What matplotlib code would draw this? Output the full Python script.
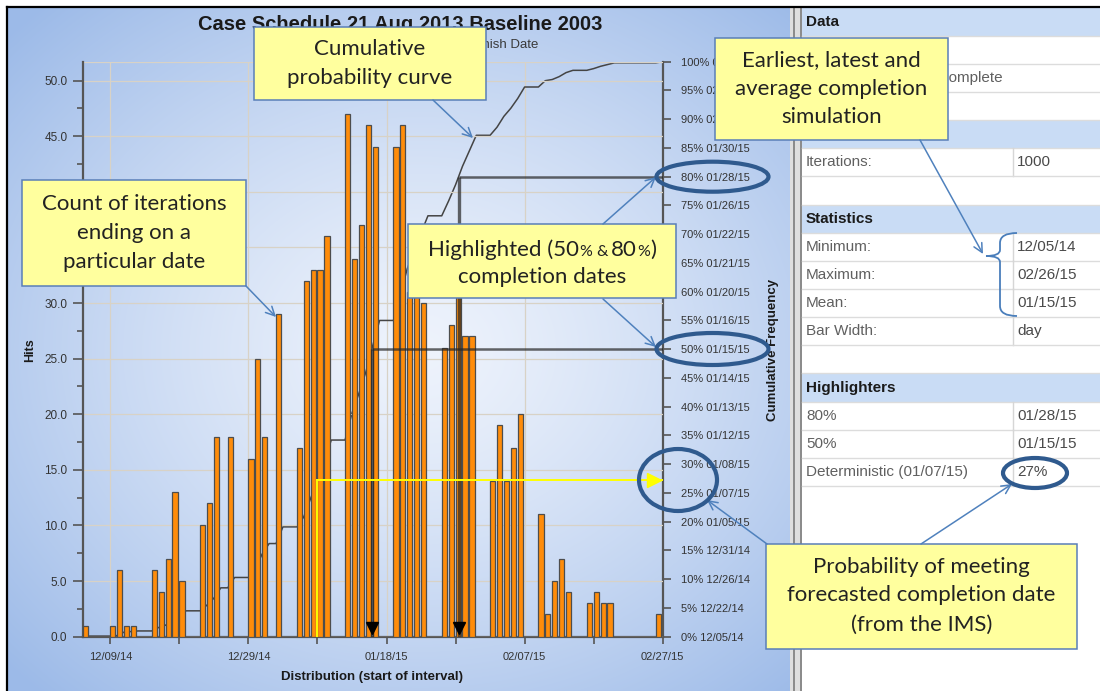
import numpy as np
import matplotlib
matplotlib.use('Agg')
import matplotlib.pyplot as plt
import matplotlib.dates as mdates
from matplotlib.ticker import FixedLocator, MultipleLocator
from matplotlib.patches import Rectangle, Ellipse, PathPatch
from matplotlib.path import Path
import datetime as dt

plt.rcParams['font.family'] = ['Liberation Sans', 'DejaVu Sans']

# ---------------- data ----------------
hit_dates = ['2014-12-05', '2014-12-09', '2014-12-10', '2014-12-11', '2014-12-12',
             '2014-12-15', '2014-12-16', '2014-12-17', '2014-12-18', '2014-12-19',
             '2014-12-22', '2014-12-23', '2014-12-24',
             '2014-12-26',
             '2014-12-29', '2014-12-30', '2014-12-31',
             '2015-01-02',
             '2015-01-05', '2015-01-06', '2015-01-07', '2015-01-08', '2015-01-09',
             '2015-01-12', '2015-01-13', '2015-01-14', '2015-01-15', '2015-01-16',
             '2015-01-19', '2015-01-20', '2015-01-21', '2015-01-22', '2015-01-23',
             '2015-01-26', '2015-01-27', '2015-01-28', '2015-01-29', '2015-01-30',
             '2015-02-02', '2015-02-03', '2015-02-04', '2015-02-05', '2015-02-06',
             '2015-02-09', '2015-02-10', '2015-02-11', '2015-02-12', '2015-02-13',
             '2015-02-16', '2015-02-17', '2015-02-18', '2015-02-19',
             '2015-02-26']
hits = [1, 1, 6, 1, 1,
        6, 4, 7, 13, 5,
        10, 12, 18,
        18,
        16, 25, 18,
        29,
        17, 32, 33, 33, 36,
        47, 34, 37, 46, 44,
        44, 46, 31, 31, 30,
        26, 28, 32, 27, 27,
        14, 19, 14, 17, 20,
        11, 2, 5, 7, 4,
        3, 4, 3, 3,
        2]

x_start, x_end = '2014-12-05', '2015-02-27'
x_tick_labels = ['12/09/14', '12/29/14', '01/18/15', '02/07/15', '02/27/15']
hits_ticks = [0, 5, 10, 15, 20, 25, 30, 35, 40, 45, 50]
pct_ticks = [0, 5, 10, 15, 20, 25, 30, 35, 40, 45, 50, 55, 60, 65, 70, 75, 80, 85, 90, 95, 100]
pct_dates = ['12/05/14', '12/22/14', '12/26/14', '12/31/14', '01/05/15', '01/07/15',
             '01/08/15', '01/12/15', '01/13/15', '01/14/15', '01/15/15', '01/16/15',
             '01/20/15', '01/21/15', '01/22/15', '01/26/15', '01/28/15', '01/30/15',
             '02/03/15', '02/06/15', '02/26/15']
highlight_pcts = [50, 80]
deterministic_date = '2015-01-07'
iterations = 1000

title = 'Case Schedule 21 Aug 2013 Baseline 2003'
subtitle = 'Project Complete : Finish Date'

table_rows = [
    ('h', 'Data', ''),
    ('e', '', ''),
    ('w', 'Project Complete', ''),
    ('e', '', ''),
    ('h', 'Simulation', ''),
    ('r', 'Iterations:', '1000'),
    ('e', '', ''),
    ('h', 'Statistics', ''),
    ('r', 'Minimum:', '12/05/14'),
    ('r', 'Maximum:', '02/26/15'),
    ('r', 'Mean:', '01/15/15'),
    ('r', 'Bar Width:', 'day'),
    ('e', '', ''),
    ('h', 'Highlighters', ''),
    ('r', '80%', '01/28/15'),
    ('r', '50%', '01/15/15'),
    ('r', 'Deterministic (01/07/15)', '27%'),
]

# ---------------- derived ----------------
def d2n(s):
    return mdates.date2num(dt.datetime.strptime(s, '%Y-%m-%d'))

hit_nums = np.array([d2n(s) for s in hit_dates])
x0n, x1n = d2n(x_start), d2n(x_end)
days = np.arange(x0n, x1n)
daily = np.zeros(len(days))
for n, h in zip(hit_nums, hits):
    daily[int(round(n - x0n))] += h
curve_x = np.concatenate([[x0n], days + 1])
curve_pct = np.concatenate([[0], np.cumsum(daily)]) / iterations * 100.0

major_x = [mdates.date2num(dt.datetime.strptime(s, '%m/%d/%y')) for s in x_tick_labels]
minor_x = list((np.array(major_x[:-1]) + np.array(major_x[1:])) / 2)

# ---------------- figure ----------------
W, H = 1100, 691
fig = plt.figure(figsize=(W / 100, H / 100), dpi=100)

bg = fig.add_axes([0, 0, 1, 1], zorder=0)
bg.set_xlim(0, W); bg.set_ylim(H, 0); bg.axis('off')

# gradient panel
px0, px1, py0, py1 = 7, 791, 7, 691
yy, xx = np.mgrid[py0:py1, px0:px1]
r = np.hypot((xx - 420) / 560.0, (yy - 350) / 470.0)
t = np.clip(r, 0, 1) ** 1.3
c0 = np.array([0xee, 0xf3, 0xfc]) / 255.0
c1 = np.array([0x9c, 0xba, 0xe8]) / 255.0
img = c0 + (c1 - c0) * t[..., None]
bg.imshow(img, extent=(px0, px1, py1, py0), aspect='auto', zorder=0, interpolation='bilinear')
bg.set_xlim(0, W); bg.set_ylim(H, 0)

# right panel (table)
bg.add_patch(Rectangle((802, 7), W - 802, H - 7, facecolor='white', edgecolor='none', zorder=1))
bg.add_patch(Rectangle((790, 7), 12, H - 7, facecolor='#dedede', edgecolor='none', zorder=1))
bg.plot([793.5, 793.5], [7, H], color='#8a8a8a', lw=1.4, zorder=2)
bg.plot([801, 801], [7, H], color='#8a8a8a', lw=1.4, zorder=2)
bg.plot([7, W], [7, 7], color='black', lw=1.6, zorder=3)
bg.plot([7, 7], [7, H], color='black', lw=1.6, zorder=3)

row_h = 28.15
ty0 = 7.5
col_x = 1012.7
for k, (kind, lab, val) in enumerate(table_rows):
    ya = ty0 + k * row_h
    yc = ya + row_h / 2
    if kind == 'h':
        bg.add_patch(Rectangle((802, ya), W - 802, row_h, facecolor='#c9dcf5', edgecolor='none', zorder=1.5))
        bg.text(806, yc, lab, fontsize=11, fontweight='bold', color='#1a1a1a', va='center', ha='left', zorder=4)
    elif kind == 'r':
        bg.plot([col_x, col_x], [ya, ya + row_h], color='#d6d6d6', lw=1, zorder=2)
        bg.text(806, yc, lab, fontsize=11, color='#606060', va='center', ha='left', zorder=4)
        bg.text(1017, yc, val, fontsize=11, color='#4a4a4a', va='center', ha='left', zorder=4)
    elif kind == 'w':
        bg.text(1003, yc, lab, fontsize=11, color='#606060', va='center', ha='right', zorder=4)
    bg.plot([802, W], [ya + row_h, ya + row_h], color='#dcdcdc', lw=1, zorder=2)

# ---------------- main chart ----------------
ax = fig.add_axes([82.7 / W, 1 - 636.7 / H, 580 / W, 575 / H])
ax.set_zorder(1)
ax.patch.set_visible(False)
ax2 = ax.twinx()
ax2.set_zorder(2)
ax2.patch.set_visible(False)

grid_c = '#d8d2c6'
axis_c = '#555555'

# cumulative curve (under the bars)
ax.plot(curve_x, curve_pct, color='#444444', lw=1.1, zorder=3)

# bars
ax2.bar(hit_nums, hits, width=0.75, align='edge', color='#ff8c0a',
        edgecolor='#4d4d4d', linewidth=0.9, zorder=3)

# highlighted percentiles
for lvl in highlight_pcts:
    xc = np.interp(lvl, curve_pct, curve_x)
    ax2.plot([xc, xc], [0, lvl], color='#262626', lw=2.4, alpha=0.7,
             transform=ax.transData, zorder=4, solid_capstyle='butt')
    ax2.plot([xc, x1n], [lvl, lvl], color='#262626', lw=1.8, alpha=0.7,
             transform=ax.transData, zorder=4, solid_capstyle='butt')
    ax2.plot([xc], [1.6], marker='v', color='black', ms=9, transform=ax.transData, zorder=5)

# deterministic date
xd = d2n(deterministic_date) + 1
pdet = np.interp(xd, curve_x, curve_pct)
ax2.plot([xd, xd], [0, pdet], color='#ffff00', lw=1.4, transform=ax.transData, zorder=4)
ax2.plot([xd, x1n], [pdet, pdet], color='#ffff00', lw=1.4, transform=ax.transData, zorder=4)
ax2.plot([x1n - 1.2], [pdet], marker='>', color='#ffff00', ms=10, transform=ax.transData, zorder=5)

# axes limits
ax.set_xlim(x0n, x1n)
ax.set_ylim(0, 100)
ax2.set_ylim(0, 51.7)

# spines
for s in ['top', 'left']:
    ax.spines[s].set_visible(False)
for s in ['right', 'bottom']:
    ax.spines[s].set_color(axis_c)
    ax.spines[s].set_linewidth(1.6)
for s in ['top', 'right', 'bottom']:
    ax2.spines[s].set_visible(False)
ax2.spines['left'].set_color(axis_c)
ax2.spines['left'].set_linewidth(1.6)

# x axis
ax.xaxis.set_major_locator(FixedLocator(major_x))
ax.xaxis.set_minor_locator(FixedLocator(minor_x))
ax.set_xticklabels(x_tick_labels)
ax.tick_params(axis='x', which='both', direction='out', length=5, width=1.2,
               color=axis_c, labelsize=8, labelcolor='#333333', pad=6)
ax.xaxis.grid(True, which='major', color=grid_c, lw=0.9)

# right (percent) axis
ax.yaxis.tick_right()
ax.set_yticks(pct_ticks)
ax.set_yticklabels([f'{p}% {d}' for p, d in zip(pct_ticks, pct_dates)])
ax.tick_params(axis='y', which='both', direction='out', length=6, width=1.2,
               color=axis_c, labelsize=8, labelcolor='#333333', pad=7,
               left=False, labelleft=False, right=True, labelright=True)

# left (hits) axis
ax2.yaxis.tick_left()
ax2.set_yticks(hits_ticks)
ax2.set_yticklabels([f'{v:.1f}' for v in hits_ticks])
ax2.yaxis.set_minor_locator(MultipleLocator(2.5))
ax2.tick_params(axis='y', which='major', direction='out', length=7, width=1.2,
                color=axis_c, labelsize=8.5, labelcolor='#333333', pad=4,
                right=False, labelright=False, left=True, labelleft=True)
ax2.tick_params(axis='y', which='minor', direction='out', length=4, width=1.2,
                color=axis_c, right=False, left=True)
ax2.set_axisbelow(True)
ax2.yaxis.grid(True, which='major', color=grid_c, lw=0.9)
ax2.axhline(51.7, color=grid_c, lw=0.9, zorder=1)

def fx(x):
    return x / W

def fy(y):
    return 1 - y / H

fig.text(fx(400), fy(25), title, fontsize=14.5, fontweight='bold', color='#1a1a1a',
         ha='center', va='center')
fig.text(fx(538), fy(45), subtitle, fontsize=9.5, color='#3a3a3a', ha='right', va='center')
fig.text(fx(30), fy(350), 'Hits', fontsize=9, fontweight='bold', rotation=90,
         ha='center', va='center', color='#1a1a1a')
fig.text(fx(773), fy(350), 'Cumulative Frequency', fontsize=9.5, fontweight='bold',
         rotation=90, ha='center', va='center', color='#1a1a1a')
fig.text(fx(372), fy(677), 'Distribution (start of interval)', fontsize=9.5,
         fontweight='bold', ha='center', va='center', color='#1a1a1a')

# ---------------- annotation overlay ----------------
ov = fig.add_axes([0, 0, 1, 1], zorder=10)
ov.set_xlim(0, W); ov.set_ylim(H, 0); ov.axis('off')

cfont = 'Lato'
box_fc = '#ffff9e'
box_ec = '#5a7fb8'
arrow_c = '#4f81bd'
ell_c = '#2f5a8e'

def callout(x0, y0, x1, y1, lines, ys, fs=16):
    ov.add_patch(Rectangle((x0, y0), x1 - x0, y1 - y0, facecolor=box_fc,
                           edgecolor=box_ec, lw=1.1, zorder=5))
    cx = (x0 + x1) / 2
    for s, yv in zip(lines, ys):
        if isinstance(s, str):
            ov.text(cx, yv, s, fontsize=fs, family=cfont, color='#222222',
                    ha='center', va='center', zorder=6)
        else:
            mixed_line(cx, yv, s)

def mixed_line(cx, cy, pieces):
    rnd = fig.canvas.get_renderer()
    arts, widths = [], []
    for s, fs, gap in pieces:
        a = ov.text(0, cy, s, fontsize=fs, family=cfont, color='#222222',
                    ha='left', va='baseline', zorder=6)
        arts.append(a)
        widths.append(a.get_window_extent(rnd).width + gap)
    xx_ = cx - sum(widths) / 2
    for a, w in zip(arts, widths):
        a.set_x(xx_)
        xx_ += w

def arrow(x0, y0, x1, y1):
    ov.annotate('', xy=(x1, y1), xytext=(x0, y0),
                arrowprops=dict(arrowstyle='->', color=arrow_c, lw=1.1,
                                shrinkA=0, shrinkB=0, mutation_scale=16), zorder=6)

def ellipse(cx, cy, w, h):
    ov.add_patch(Ellipse((cx, cy), w, h, fill=False, edgecolor=ell_c, lw=3, zorder=7))

callout(254, 27, 486, 100, ['Cumulative', 'probability curve'], [49, 78])
arrow(433, 100, 473, 138)

callout(22, 180, 246, 286, ['Count of iterations', 'ending on a', 'particular date'], [204, 233, 262])
arrow(246, 286, 276, 317)

callout(408, 224, 676, 298,
        [[('Highlighted (50', 16, 0), ('%', 11.5, 4), ('&', 11.5, 4),
          ('80', 16, 0), ('%', 11.5, 0), (')', 16, 0)],
         'completion dates'], [256, 277])
arrow(603, 224, 656, 177)
arrow(603, 299, 656, 347)

callout(715, 38, 948, 140, ['Earliest, latest and', 'average completion', 'simulation'], [60, 89, 117])
arrow(920, 140, 983, 254)

callout(766, 544, 1077, 649, ['Probability of meeting', 'forecasted completion date',
                              '(from the IMS)'], [567, 595, 625])
arrow(921, 544, 1012, 484)
arrow(767, 544, 707, 500)

ellipse(712.5, 176.7, 112, 30)
ellipse(712.5, 349, 112, 32)
ellipse(678, 480, 78, 62)
ellipse(1035, 473, 64, 30)

# brace in the statistics table
verts = [(1017, 233), (1000, 233), (1000, 243), (1000, 250), (1000, 256), (986, 256),
         (1000, 256), (1000, 262), (1000, 306), (1000, 316), (1017, 316)]
codes = [Path.MOVETO, Path.CURVE3, Path.CURVE3, Path.LINETO, Path.CURVE3, Path.CURVE3,
         Path.CURVE3, Path.CURVE3, Path.LINETO, Path.CURVE3, Path.CURVE3]
ov.add_patch(PathPatch(Path(verts, codes), facecolor='none', edgecolor='#4a7ebb', lw=1.3, zorder=6))

fig.savefig('out.png', dpi=100)
